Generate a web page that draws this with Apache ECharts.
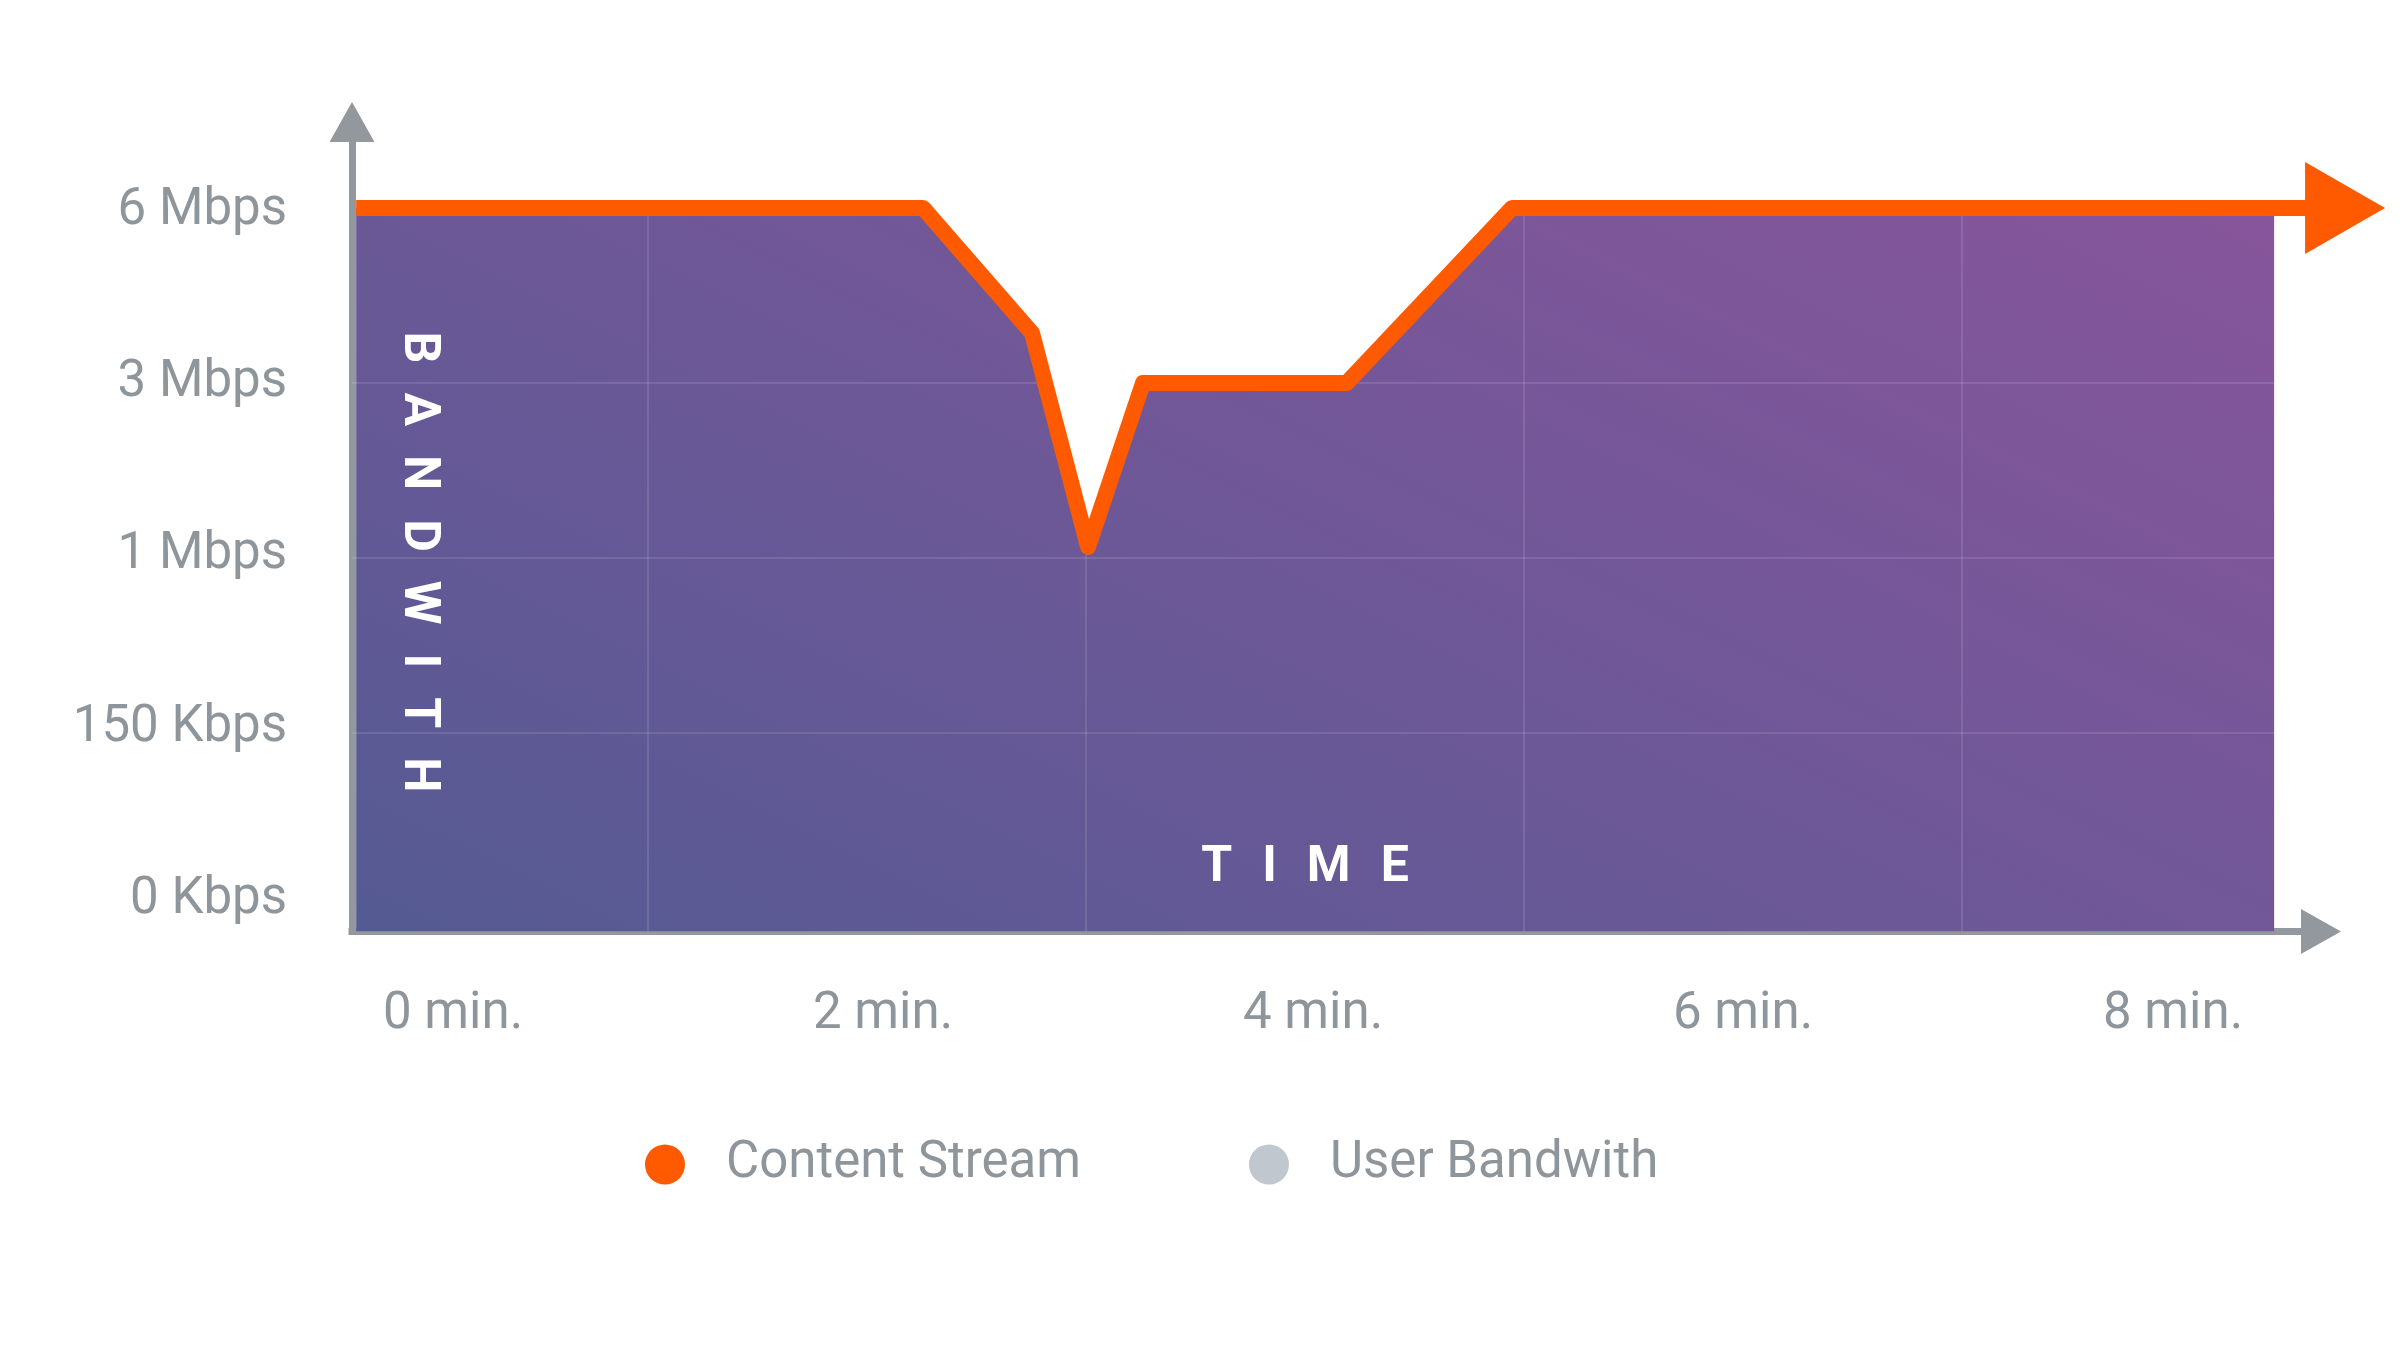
<!DOCTYPE html>
<html>
<head>
<meta charset="utf-8">
<script src="https://cdn.jsdelivr.net/npm/echarts@6/dist/echarts.min.js"></script>
<style>
  html, body { margin: 0; padding: 0; background: #ffffff; }
  #chart { width: 2400px; height: 1359px; }
</style>
</head>
<body>
<div id="chart"></div>
<script>
// ---- data ----
// time in minutes, bandwidth as ordinal level (0 = 0 Kbps, 1 = 150 Kbps, 2 = 1 Mbps, 3 = 3 Mbps, 4 = 6 Mbps)
const timeMin      = [-0.333, 2.256, 2.753, 3.009, 3.26, 4.19, 4.945, 8.425];
const streamLevel  = [4, 4, 3.286, 2.063, 3, 3, 4, 4];
const streamArrowTime = 8.749;           // the stream line runs on into its arrowhead
const xTickValues  = [0, 2, 4, 6, 8];
const xTickLabels  = ['0 min.', '2 min.', '4 min.', '6 min.', '8 min.'];
const yTickValues  = [0, 1, 2, 3, 4];
const yTickLabels  = ['0 Kbps', '150 Kbps', '1 Mbps', '3 Mbps', '6 Mbps'];
const gridMinutes  = [1, 3, 5, 7];
const gridLevels   = [1, 2, 3];
const seriesNames  = ['Content Stream', 'User Bandwith'];

// ---- styles ----
const ORANGE = '#ff5a00';
const AXIS_GRAY = '#92989d';
const LABEL_GRAY = '#8e959b';
const LEGEND_DOT_GRAY = '#c0c7ce';
const FONT = 'Roboto';

const areaData = timeMin.map((t, i) => [t, streamLevel[i]]);
const lineData = areaData.map(p => p.slice());
lineData.push({
  value: [streamArrowTime, streamLevel[streamLevel.length - 1]],
  symbol: 'triangle',
  symbolSize: [92, 80],
  symbolRotate: -90,
  itemStyle: { color: ORANGE }
});

const spaced = (word) => word.split('').map(c => '{a|' + c + '}').join('');

const chart = echarts.init(document.getElementById('chart'), null, { renderer: 'canvas' });
chart.setOption({
  animation: false,
  backgroundColor: '#ffffff',
  grid: { left: 352, right: 79, top: 122, bottom: 427.5, containLabel: false },
  legend: {
    data: seriesNames,
    icon: 'circle',
    left: 640,
    top: 1134,
    itemWidth: 112,
    itemHeight: 40,
    itemGap: 168,
    itemStyle: { borderWidth: 0 },
    textStyle: { fontSize: 51, color: LABEL_GRAY, fontFamily: FONT, padding: [0, 0, 12, 0] }
  },
  xAxis: [
    {
      type: 'value', min: -0.352, max: 8.639, position: 'bottom',
      axisLine: { show: true, onZero: false, symbol: ['none', 'triangle'], symbolSize: [45, 40],
                  lineStyle: { color: AXIS_GRAY, width: 7, cap: 'square' } },
      axisTick: { show: false }, axisLabel: { show: false }, splitLine: { show: false }
    },
    {
      type: 'value', min: -0.47, max: 8.688, position: 'bottom',
      axisLine: { show: false, onZero: false }, axisTick: { show: false }, splitLine: { show: false },
      axisLabel: {
        show: true, customValues: xTickValues, margin: 58,
        fontSize: 51, color: LABEL_GRAY, fontFamily: FONT,
        formatter: v => xTickLabels[xTickValues.indexOf(Math.round(v))] || ''
      }
    }
  ],
  yAxis: [
    {
      type: 'value', min: -0.134, max: 4.491, position: 'left',
      axisLine: { show: true, onZero: false, symbol: ['none', 'triangle'], symbolSize: [45, 40],
                  lineStyle: { color: AXIS_GRAY, width: 7, cap: 'square' } },
      axisTick: { show: false }, axisLabel: { show: false }, splitLine: { show: false }
    },
    {
      type: 'value', min: -0.181, max: 4.517, position: 'left',
      axisLine: { show: false, onZero: false }, axisTick: { show: false }, splitLine: { show: false },
      axisLabel: {
        show: true, customValues: yTickValues, margin: 65,
        fontSize: 51, color: LABEL_GRAY, fontFamily: FONT,
        formatter: v => yTickLabels[yTickValues.indexOf(Math.round(v))] || ''
      }
    }
  ],
  series: [
    {
      name: seriesNames[1],
      type: 'line',
      xAxisIndex: 0, yAxisIndex: 0,
      data: areaData,
      symbol: 'none',
      showSymbol: false,
      z: 2,
      itemStyle: { color: LEGEND_DOT_GRAY },
      lineStyle: { width: 0, opacity: 0 },
      areaStyle: {
        opacity: 1,
        origin: 'start',
        color: new echarts.graphic.LinearGradient(0, 1, 0.346, -0.862, [
          { offset: 0, color: '#555a93' },
          { offset: 1, color: '#87559b' }
        ])
      },
      markLine: {
        silent: true,
        symbol: ['none', 'none'],
        label: { show: false },
        lineStyle: { color: 'rgba(255,255,255,0.11)', width: 2, type: 'solid' },
        data: gridMinutes.map(m => ({ xAxis: m })).concat(gridLevels.map(l => ({ yAxis: l })))
      }
    },
    {
      name: seriesNames[0],
      type: 'line',
      xAxisIndex: 0, yAxisIndex: 0,
      data: lineData,
      symbol: 'none',
      showSymbol: true,
      clip: false,
      z: 10,
      itemStyle: { color: ORANGE },
      lineStyle: { color: ORANGE, width: 16, join: 'round', cap: 'butt' }
    }
  ],
  graphic: [
    {
      type: 'text', x: 1305, y: 868, z: 100,
      style: {
        text: spaced('TIME'),
        align: 'center', verticalAlign: 'middle',
        rich: { a: { fill: '#ffffff', fontSize: 50, fontWeight: 'bold', fontFamily: FONT, padding: [0, 15, 0, 15] } }
      }
    },
    {
      type: 'text', x: 417, y: 562, z: 100, rotation: -Math.PI / 2,
      style: {
        text: spaced('BANDWITH'),
        align: 'center', verticalAlign: 'middle',
        rich: { a: { fill: '#ffffff', fontSize: 50, fontWeight: 'bold', fontFamily: FONT, padding: [0, 14.5, 0, 14.5] } }
      }
    }
  ]
});
</script>
</body>
</html>
